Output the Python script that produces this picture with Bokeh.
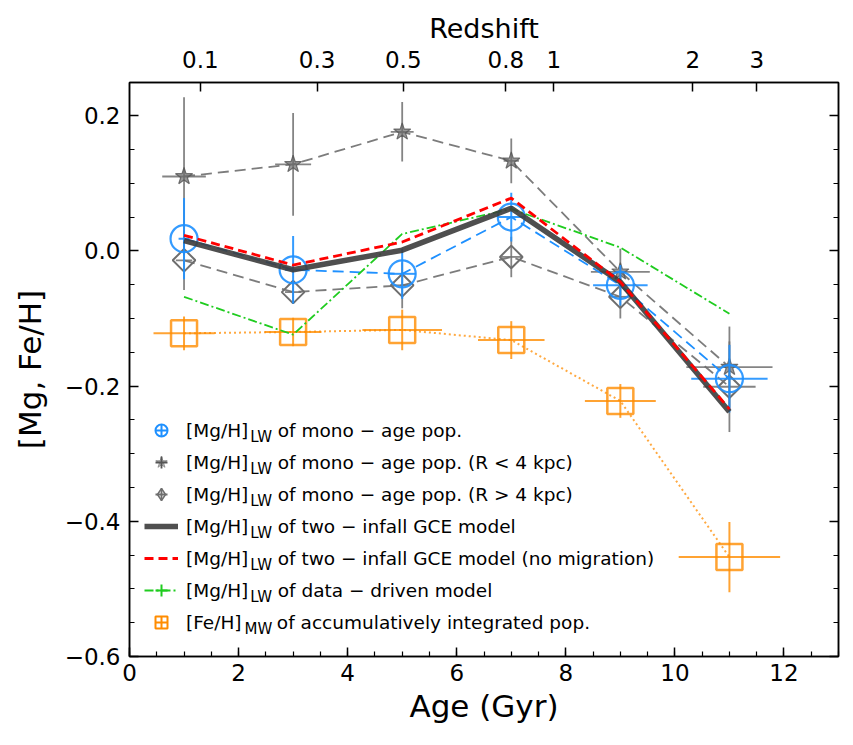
import numpy as np
from bokeh.plotting import figure
from bokeh.models import (Range1d, LinearAxis, FixedTicker, Legend, LegendItem, Label)
from bokeh.embed import file_html
from bokeh.resources import INLINE

# ---------------- data ----------------
ages = [1, 3, 5, 7, 9, 11]

mono_mgh = [0.018, -0.028, -0.034, 0.050, -0.051, -0.189]
mono_yerr = [0.060, 0.050, 0.037, 0.036, 0.030, 0.050]
mono_xerr = [0.10, 0.15, 0.25, 0.25, 0.50, 0.70]

inner_mgh = [0.110, 0.128, 0.176, 0.133, -0.031, -0.172]   # R < 4 kpc
inner_yerr = [0.117, 0.076, 0.044, 0.033, 0.034, 0.060]
inner_xerr = [0.40, 0.33, 0.21, 0.14, 0.54, 0.79]

outer_mgh = [-0.014, -0.061, -0.051, -0.009, -0.068, -0.201]  # R > 4 kpc
outer_yerr = [0.044, 0.017, 0.034, 0.030, 0.032, 0.067]
outer_xerr = [0.15, 0.15, 0.15, 0.18, 0.20, 0.48]

gce_model = [0.015, -0.028, 0.001, 0.063, -0.046, -0.238]
gce_nomig = [0.023, -0.021, 0.013, 0.078, -0.046, -0.234]
data_driven = [-0.068, -0.124, 0.025, 0.062, 0.005, -0.093]

feh_int = [-0.122, -0.120, -0.117, -0.132, -0.222, -0.453]
feh_yerr = [0.025, 0.021, 0.030, 0.028, 0.025, 0.052]
feh_xerr = [0.56, 0.52, 0.73, 0.61, 0.65, 0.93]

redshift_tick_ages = [1.30, 3.44, 5.02, 6.90, 7.78, 10.33, 11.50]
redshift_labels = ["0.1", "0.3", "0.5", "0.8", "1", "2", "3"]
x_ticks = [0, 2, 4, 6, 8, 10, 12]
y_ticks = [0.2, 0.0, -0.2, -0.4, -0.6]
y_tick_labels = ["0.2", "0.0", "\u22120.2", "\u22120.4", "\u22120.6"]

legend_main = ["[Mg/H]", "[Mg/H]", "[Mg/H]", "[Mg/H]", "[Mg/H]", "[Mg/H]", "[Fe/H]"]
legend_sub = ["LW", "LW", "LW", "LW", "LW", "LW", "MW"]
legend_rest = ["of mono \u2212 age pop.",
               "of mono \u2212 age pop. (R < 4 kpc)",
               "of mono \u2212 age pop. (R > 4 kpc)",
               "of two \u2212 infall GCE model",
               "of two \u2212 infall GCE model (no migration)",
               "of data \u2212 driven model",
               "of accumulatively integrated pop."]

# ---------------- styling ----------------
FONT = "DejaVu Sans"
BLUE = "#1E90FF"
GRAY = "#6e6e6e"
ORANGE = "#ff8c00"
GREEN = "#1fcc1f"
RED = "#ff0000"
DARK = "#3c3c3c"

p = figure(width=850, height=742, x_range=Range1d(0, 13), y_range=Range1d(-0.6, 0.249),
           output_backend="svg", toolbar_location=None,
           min_border_left=129, min_border_right=12, min_border_top=82, min_border_bottom=86)
p.grid.visible = False
p.outline_line_color = "black"
p.outline_line_width = 1.5
p.background_fill_color = "white"


def style_axis(ax, label_size="23px"):
    ax.major_tick_in = 9
    ax.major_tick_out = 0
    ax.minor_tick_in = 5
    ax.minor_tick_out = 0
    ax.axis_line_width = 1.5
    ax.major_tick_line_width = 1.5
    ax.minor_tick_line_width = 1.2
    ax.axis_line_color = "black"
    ax.major_label_text_font = FONT
    ax.major_label_text_font_size = label_size
    ax.major_label_text_color = "black"
    ax.axis_label_text_font = FONT
    ax.axis_label_text_font_style = "normal"
    ax.axis_label_text_color = "black"


xb = p.xaxis[0]
xb.ticker = FixedTicker(ticks=x_ticks, minor_ticks=list(np.arange(0, 13.01, 0.5)))
style_axis(xb)
xb.axis_label = "Age (Gyr)"
xb.axis_label_text_font_size = "31px"
xb.major_label_standoff = 7
xb.axis_label_standoff = 4

yl = p.yaxis[0]
yl.ticker = FixedTicker(ticks=y_ticks, minor_ticks=list(np.arange(-0.6, 0.2501, 0.05)))
yl.major_label_overrides = dict(zip(y_ticks, y_tick_labels))
style_axis(yl)
yl.axis_label = "[Mg, Fe/H]"
yl.axis_label_text_font_size = "31px"
yl.major_label_standoff = 9
yl.axis_label_standoff = 14

yr = LinearAxis(ticker=FixedTicker(ticks=y_ticks, minor_ticks=list(np.arange(-0.6, 0.2501, 0.05))))
style_axis(yr)
yr.major_label_text_font_size = "1px"
yr.major_label_text_color = None
yr.major_label_standoff = 0
p.add_layout(yr, "right")

xt = LinearAxis(ticker=FixedTicker(ticks=redshift_tick_ages, minor_ticks=[]))
xt.major_label_overrides = dict(zip(redshift_tick_ages, redshift_labels))
style_axis(xt)
xt.minor_tick_in = 0
xt.axis_label = "Redshift"
xt.axis_label_text_font_size = "27px"
xt.major_label_standoff = 15
xt.axis_label_standoff = 4
p.add_layout(xt, "above")


def errorbars(x, y, xerr, yerr, color, alpha, width):
    x = np.asarray(x, float)
    y = np.asarray(y, float)
    xe = np.asarray(xerr, float)
    ye = np.asarray(yerr, float)
    p.segment(x0=x, y0=y - ye, x1=x, y1=y + ye, line_color=color, line_alpha=alpha, line_width=width)
    p.segment(x0=x - xe, y0=y, x1=x + xe, y1=y, line_color=color, line_alpha=alpha, line_width=width)


# accumulatively integrated [Fe/H]
p.line(ages, feh_int, line_color=ORANGE, line_alpha=0.75, line_width=2, line_dash="2 3")
errorbars(ages, feh_int, feh_xerr, feh_yerr, ORANGE, 0.8, 2)
p.scatter(ages, feh_int, marker="square", size=26, fill_color=None, line_color=ORANGE,
          line_alpha=0.8, line_width=2.5)

# R < 4 kpc
p.line(ages, inner_mgh, line_color=GRAY, line_alpha=0.9, line_width=1.8, line_dash="11 6")
errorbars(ages, inner_mgh, inner_xerr, inner_yerr, GRAY, 0.85, 1.8)
p.scatter(ages, inner_mgh, marker="star", size=18, fill_color=GRAY, fill_alpha=0.7,
          line_color="#555555", line_alpha=0.8, line_width=1.2)

# R > 4 kpc
p.line(ages, outer_mgh, line_color=GRAY, line_alpha=0.9, line_width=1.8, line_dash="11 6")
errorbars(ages, outer_mgh, outer_xerr, outer_yerr, GRAY, 0.85, 1.8)
p.scatter(ages, outer_mgh, marker="square", angle=np.pi / 4, size=16, fill_color=None,
          line_color=GRAY, line_width=2)

# mono-age population
p.line(ages, mono_mgh, line_color=BLUE, line_width=1.8, line_dash="11 6")
errorbars(ages, mono_mgh, mono_xerr, mono_yerr, BLUE, 0.9, 2)
p.scatter(ages, mono_mgh, marker="circle", size=27, fill_color=None, line_color=BLUE,
          line_width=2.2, line_alpha=0.9)

# data-driven model
p.line(ages, data_driven, line_color=GREEN, line_width=1.8, line_dash="9 3 2 3")

# two-infall GCE model
p.line(ages, gce_model, line_color=DARK, line_alpha=0.9, line_width=5.5)
p.line(ages, gce_nomig, line_color=RED, line_width=2.8, line_dash="9 5")

# ---------------- legend (proxy glyphs with no visible point) ----------------
nx = [np.nan]
lg1a = p.scatter(nx, nx, marker="circle", size=10, fill_color=None, line_color=BLUE, line_width=2)
lg1b = p.scatter(nx, nx, marker="cross", size=10, line_color=BLUE, line_width=2)
lg2a = p.scatter(nx, nx, marker="star", size=10, fill_color=GRAY, fill_alpha=0.5, line_color=GRAY,
                 line_alpha=0.6, line_width=1)
lg2b = p.scatter(nx, nx, marker="cross", size=10, line_color="#555555", line_width=1.8)
lg3a = p.scatter(nx, nx, marker="diamond", size=10, fill_color=None,
                 line_color=GRAY, line_width=1.5)
lg3b = p.scatter(nx, nx, marker="cross", size=10, line_color=GRAY, line_width=1.8)
lg4 = p.line(nx, nx, line_color=DARK, line_alpha=0.9, line_width=5.5)
lg5 = p.line(nx, nx, line_color=RED, line_width=2.8, line_dash="9 5")
lg6a = p.line(nx, nx, line_color=GREEN, line_width=1.8, line_dash="9 3 2 3")
lg6b = p.scatter(nx, nx, marker="cross", size=10, line_color=GREEN, line_width=2)
lg7a = p.scatter(nx, nx, marker="square", size=10, fill_color=None, line_color=ORANGE, line_width=2)
lg7b = p.scatter(nx, nx, marker="cross", size=10, line_color=ORANGE, line_width=2)

groups = [[lg1a, lg1b], [lg2a, lg2b], [lg3a, lg3b], [lg4], [lg5], [lg6a, lg6b], [lg7a, lg7b]]
gaps = [5, 5, 5, 5, 5, 5, 6]
items = []
for main, rest, rs, g in zip(legend_main, legend_rest, groups, gaps):
    items.append(LegendItem(label=main + "\u00a0" * g + rest, renderers=rs))

LEG_PX = 18.5
legend = Legend(items=items, location=(15, 19), padding=0, margin=0, spacing=2,
                glyph_width=34, glyph_height=30, label_height=30, label_standoff=8,
                label_text_font=FONT, label_text_font_size=f"{LEG_PX}px", label_text_color="black",
                border_line_color=None, background_fill_color=None)
p.add_layout(legend)

main_width = {"[Mg/H]": 3.367 * LEG_PX, "[Fe/H]": 3.059 * LEG_PX}
for i, (main, sub) in enumerate(zip(legend_main, legend_sub)):
    p.add_layout(Label(x=15 + 34 + 8 + main_width[main] + 1.5, y=226 - 32 * i - 6,
                       x_units="screen", y_units="screen", text=sub,
                       text_font=FONT, text_font_size="15px", text_baseline="middle",
                       text_color="black"))

open("out.html", "w").write(file_html(p, INLINE))
